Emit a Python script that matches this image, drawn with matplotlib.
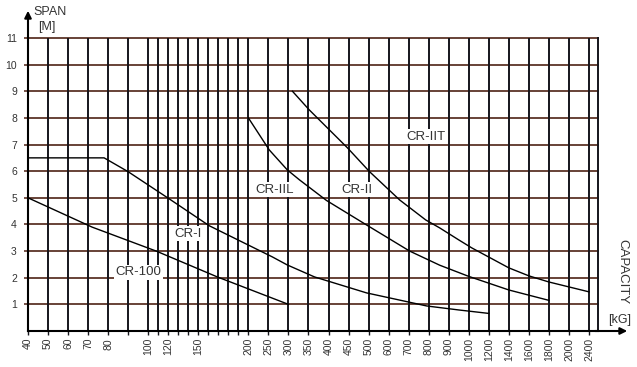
import numpy as np
import matplotlib.pyplot as plt

# grid values on the capacity axis and their spacing units
grid_vals = [40, 50, 60, 70, 80, 90, 100, 110, 120, 130, 140, 150, 160, 170, 180, 190, 200,
             250, 300, 350, 400, 450, 500, 600, 700, 800, 900, 1000, 1200, 1400, 1600, 1800, 2000, 2400]
label_vals = [40, 50, 60, 70, 80, 100, 120, 150, 200, 250, 300, 350, 400, 450, 500, 600, 700,
              800, 900, 1000, 1200, 1400, 1600, 1800, 2000, 2400]
span_ticks = [1, 2, 3, 4, 5, 6, 7, 8, 9, 10, 11]

# curves
cr100_x = [40, 72, 108, 169, 300]
cr100_y = [5.0, 3.9, 3.0, 2.03, 1.0]
cr1_x = [40, 78, 90, 121, 161, 260, 297, 365, 495, 790, 950, 1200]
cr1_y = [6.5, 6.5, 5.98, 4.96, 3.95, 2.78, 2.48, 2.03, 1.43, 0.94, 0.79, 0.66]
cr2l_x = [200, 252, 297, 327, 395, 495, 705, 855, 1000, 1400, 1800]
cr2l_y = [8.0, 6.8, 6.05, 5.68, 4.9, 3.98, 3.0, 2.47, 2.05, 1.54, 1.15]
cr2_x = [310, 352, 447, 505, 655, 785, 855, 950, 1030, 1400, 1600, 1800, 2400]
cr2_y = [9.0, 8.3, 6.88, 5.98, 4.92, 4.17, 3.87, 3.42, 3.12, 2.37, 2.07, 1.84, 1.47]

labels = ["CR-100", "CR-I", "CR-IIL", "CR-II", "CR-IIT"]
label_x = [95, 140, 265, 470, 785]
label_y = [2.2, 3.65, 5.3, 5.3, 7.3]

# build the piecewise axis: 2 units per grid step, 1 unit between 100 and 200
units = [0.0]
for a, b in zip(grid_vals[:-1], grid_vals[1:]):
    units.append(units[-1] + (1.0 if 100 <= a < 200 else 2.0))
map_vals = np.array(grid_vals + [2800], dtype=float)
map_units = np.array(units + [units[-1] + 2.0])


def fwd(x):
    return np.interp(x, map_vals, map_units)


def inv(u):
    return np.interp(u, map_units, map_vals)


plt.rcParams['font.family'] = ['Liberation Sans', 'DejaVu Sans']
fig = plt.figure(figsize=(6.37, 3.67), dpi=100)
ax = fig.add_axes([28 / 637, 1 - 331 / 367, 570 / 637, 293 / 367])
ax.set_xscale('function', functions=(fwd, inv))
ax.set_xlim(40, inv(56.9))
ax.set_ylim(0, 11)

hcol = '#5c3428'
vcol = '#15151c'
for v in span_ticks:
    ax.axhline(v, color=hcol, lw=1.3, zorder=1, clip_on=False)
for v in grid_vals[1:]:
    ax.axvline(v, color=vcol, lw=1.4, zorder=1)

for xs, ys in [(cr100_x, cr100_y), (cr1_x, cr1_y), (cr2l_x, cr2l_y), (cr2_x, cr2_y)]:
    ax.plot(xs, ys, color='black', lw=1.0, zorder=3)

for t, x, y in zip(labels, label_x, label_y):
    ax.text(x, y, t, fontsize=9.5, color='#333333', ha='center', va='center', zorder=4,
            bbox=dict(facecolor='white', edgecolor='none', pad=1.0))

ax.set_xticks(grid_vals)
ax.set_xticklabels([str(v) if v in label_vals else '' for v in grid_vals],
                   rotation=90, fontsize=7.5, color='#333333')
ax.set_xticks([], minor=True)
ax.set_yticks(span_ticks)
ax.set_yticklabels([str(v) for v in span_ticks], fontsize=7.5, color='#333333')
ax.tick_params(axis='x', length=3, width=1.0, color=vcol, pad=2)
ax.tick_params(axis='y', length=3, width=1.2, color=hcol, pad=5)

ax.spines['top'].set_visible(False)
ax.spines['right'].set_color(vcol)
ax.spines['right'].set_linewidth(1.4)
ax.spines['left'].set_color('black')
ax.spines['left'].set_linewidth(1.5)
ax.spines['bottom'].set_color('black')
ax.spines['bottom'].set_linewidth(1.5)

# axis arrows
ax.annotate('', xy=(0, 1 + 30 / 293), xytext=(0, 0.99), xycoords='axes fraction',
            arrowprops=dict(arrowstyle='-|>', color='black', lw=1.5, mutation_scale=10))
ax.annotate('', xy=(1 + 32 / 570, 0), xytext=(0.99, 0), xycoords='axes fraction',
            arrowprops=dict(arrowstyle='-|>', color='black', lw=1.5, mutation_scale=10))

fig.text(33 / 637, 1 - 12 / 367, 'SPAN', fontsize=9, color='#333333', ha='left', va='center')
fig.text(47 / 637, 1 - 27 / 367, '[M]', fontsize=9, color='#333333', ha='center', va='center')
fig.text(622 / 637, 1 - 272 / 367, 'CAPACITY', fontsize=9.5, color='#333333', ha='center', va='center',
         rotation=-90)
fig.text(620 / 637, 1 - 320 / 367, '[kG]', fontsize=9, color='#333333', ha='center', va='center')

fig.savefig('out.png', dpi=100)
